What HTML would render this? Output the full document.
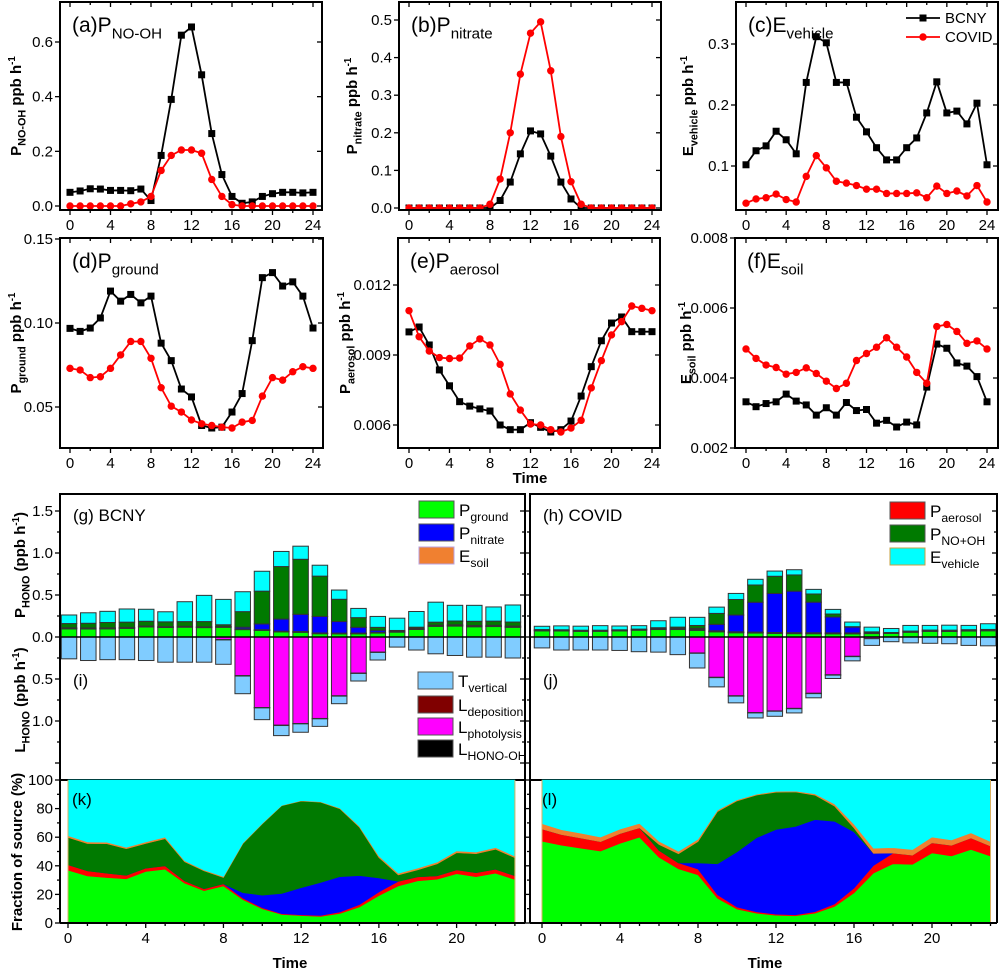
<!DOCTYPE html>
<html><head><meta charset="utf-8">
<style>
html,body{margin:0;padding:0;background:#fff;}
svg{display:block;font-family:"Liberation Sans",Arial,sans-serif;}
</style></head>
<body>
<svg id="fig" width="1001" height="971" viewBox="0 0 1001 971" xmlns="http://www.w3.org/2000/svg"></svg>
<script>
// ---------- data ----------
const hours = [0,1,2,3,4,5,6,7,8,9,10,11,12,13,14,15,16,17,18,19,20,21,22,23,24];
const barHours = [0,1,2,3,4,5,6,7,8,9,10,11,12,13,14,15,16,17,18,19,20,21,22,23];
const noohB = [0.05,0.055,0.063,0.062,0.057,0.057,0.056,0.062,0.02,0.185,0.39,0.625,0.655,0.48,0.265,0.115,0.035,0.01,0.015,0.035,0.045,0.05,0.05,0.048,0.05];
const noohC = [0,0,0,0,0,0,0.008,0.015,0.035,0.13,0.185,0.205,0.205,0.193,0.097,0.035,0.005,0,0,0,0,0,0,0,0];
const nitB = [0,0,0,0,0,0,0,0,0,0.02,0.069,0.144,0.205,0.197,0.138,0.069,0.024,0,0,0,0,0,0,0,0];
const nitC = [0,0,0,0,0,0,0,0,0.01,0.077,0.2,0.356,0.465,0.495,0.365,0.19,0.07,0.01,0,0,0,0,0,0,0];
const vehB = [0.102,0.125,0.133,0.157,0.143,0.12,0.237,0.312,0.302,0.237,0.237,0.18,0.156,0.13,0.11,0.11,0.13,0.146,0.187,0.238,0.187,0.19,0.169,0.203,0.102];
const vehC = [0.039,0.046,0.048,0.054,0.045,0.041,0.083,0.117,0.097,0.075,0.072,0.068,0.062,0.062,0.055,0.055,0.055,0.056,0.048,0.067,0.055,0.059,0.051,0.068,0.041];
const grdB = [0.0968,0.095,0.097,0.103,0.119,0.113,0.117,0.112,0.116,0.088,0.0776,0.0607,0.056,0.039,0.0375,0.038,0.047,0.058,0.0895,0.127,0.130,0.122,0.1245,0.116,0.097];
const grdC = [0.073,0.072,0.0675,0.068,0.073,0.081,0.089,0.089,0.079,0.0615,0.0505,0.047,0.0423,0.040,0.039,0.038,0.0375,0.041,0.042,0.0565,0.0675,0.066,0.071,0.074,0.073];
const aerB = [0.00999,0.0102,0.00943,0.00836,0.00768,0.0070,0.00681,0.00669,0.0066,0.006,0.0058,0.0058,0.0061,0.0059,0.0057,0.0058,0.00617,0.00724,0.0085,0.00961,0.01037,0.01063,0.0100,0.0100,0.0100];
const aerC = [0.0109,0.00978,0.00917,0.00889,0.00885,0.00887,0.00939,0.00969,0.00943,0.0086,0.00733,0.00664,0.00604,0.006,0.0058,0.0057,0.00587,0.0062,0.00759,0.00876,0.00986,0.01043,0.0111,0.0110,0.0109];
const soilB = [0.00332,0.00318,0.00327,0.00332,0.00354,0.00334,0.00323,0.00294,0.00315,0.00294,0.0033,0.00307,0.0031,0.00271,0.00279,0.0026,0.00274,0.00266,0.00374,0.00497,0.00485,0.00443,0.00434,0.00404,0.00332];
const soilC = [0.00483,0.00456,0.00437,0.0043,0.00411,0.00416,0.00429,0.00413,0.00391,0.0037,0.00385,0.0045,0.0047,0.00488,0.00515,0.00488,0.0046,0.00416,0.00385,0.00547,0.00553,0.00533,0.00499,0.00506,0.00483];
const photB = [0,0,0,0,0,0,0,0,0.03,0.46,0.84,1.05,1.03,0.97,0.70,0.43,0.18,0,0,0,0,0,0,0];
const vertB = [0.26,0.28,0.27,0.27,0.28,0.30,0.30,0.30,0.29,0.21,0.14,0.12,0.10,0.09,0.09,0.09,0.09,0.12,0.155,0.2,0.22,0.24,0.24,0.25];
const depB = [0,0,0,0,0,0,0,0,0.005,0.005,0.004,0.004,0.004,0.004,0.004,0.004,0.004,0,0,0,0,0,0,0];
const photC = [0,0,0,0,0,0,0,0,0.19,0.48,0.70,0.90,0.88,0.85,0.67,0.45,0.23,0.02,0,0,0,0,0,0];
const vertC = [0.13,0.155,0.155,0.155,0.16,0.175,0.18,0.21,0.175,0.11,0.08,0.06,0.06,0.05,0.05,0.04,0.05,0.08,0.056,0.07,0.075,0.08,0.1,0.105];
const depC = [0,0,0,0,0,0,0,0,0.004,0.004,0.004,0.004,0.004,0.004,0.004,0.004,0.004,0,0,0,0,0,0,0];
const xTickLabels = ["0","4","8","12","16","20","24"];
const areaTickLabels = ["0","4","8","12","16","20"];
const ticksA = ["0.0","0.2","0.4","0.6"];
const ticksB = ["0.0","0.1","0.2","0.3","0.4","0.5"];
const ticksC = ["0.1","0.2","0.3"];
const ticksD = ["0.05","0.10","0.15"];
const ticksE = ["0.006","0.009","0.012"];
const ticksF = ["0.002","0.004","0.006","0.008"];
const ticksP = ["0.0","0.5","1.0","1.5"];
const ticksL = ["0.5","1.0"];
const ticksFrac = ["0","20","40","60","80","100"];

// ---------- helpers ----------
const NS="http://www.w3.org/2000/svg";
const svg=document.getElementById('fig');
function el(tag,attrs,parent){const e=document.createElementNS(NS,tag);for(const k in attrs)e.setAttribute(k,attrs[k]);(parent||svg).appendChild(e);return e;}
function rich(parent,x,y,parts,size,opts){
  opts=opts||{};
  const t=el('text',{x:x,y:y,'font-size':size,fill:'#000'},parent);
  if(opts.anchor)t.setAttribute('text-anchor',opts.anchor);
  if(opts.bold)t.setAttribute('font-weight','bold');
  if(opts.rot)t.setAttribute('transform','rotate(-90 '+x+' '+y+')');
  let cur=0;
  parts.forEach(p=>{
    const s=el('tspan',{},t);
    let target=0,fs=size;
    if(p[1]==='sub'){target=size*0.3;fs=size*0.72;}
    if(p[1]==='sup'){target=-size*0.4;fs=size*0.65;}
    s.setAttribute('dy',target-cur);cur=target;
    s.setAttribute('font-size',fs);
    s.textContent=p[0];
  });
  return t;
}
function lin(v1,p1,v2,p2){return v=>p1+(v-v1)*(p2-p1)/(v2-v1);}

// ---------- line panels ----------
function linePanel(cfg){
  const g=el('g',{});
  
  
  const X=lin(0,cfg.x0,24,cfg.x24), Y=cfg.y;
  // ticks
  for(let h=0;h<=24;h+=2){
    const big=h%4===0;
    el('line',{x1:X(h),x2:X(h),y1:cfg.b,y2:cfg.b+(big?5:3),stroke:'#000','stroke-width':1.3},g);
    el('line',{x1:X(h),x2:X(h),y1:cfg.t,y2:cfg.t+(big?5:3),stroke:'#000','stroke-width':1.3},g);
  }
  xTickLabels.forEach((s,i)=>{
    const t=el('text',{x:X(i*4),y:cfg.b+20,'font-size':15,'text-anchor':'middle'},g);
    
    t.textContent=s;
  });
  cfg.ticks.forEach(s=>{
    const v=parseFloat(s),py=Y(v);
    el('line',{x1:cfg.l-5,x2:cfg.l,y1:py,y2:py,stroke:'#000','stroke-width':1.3},g);
    el('line',{x1:cfg.r-5,x2:cfg.r,y1:py,y2:py,stroke:'#000','stroke-width':1.3},g);
    const t=el('text',{x:cfg.l-7,y:py+5,'font-size':15,'text-anchor':'end'},g);
    
    t.textContent=s;
  });
  // clip
  const cid='c'+cfg.name;
  const cp=el('clipPath',{id:cid},g);el('rect',{x:cfg.l,y:cfg.t,width:cfg.r-cfg.l,height:cfg.b-cfg.t},cp);
  const pg=el('g',{'clip-path':'url(#'+cid+')'},g);
  // series
  [[cfg.sB,'#000','sq','bcny-line'],[cfg.sC,'#f00','ci','covid-line']].forEach(s=>{
    const pts=hours.map((h,i)=>X(h)+','+Y(s[0][i])).join(' ');
    const pl=el('polyline',{points:pts,fill:'none',stroke:s[1],'stroke-width':1.8},pg);
    
    hours.forEach((h,i)=>{
      if(s[2]==='sq') el('rect',{x:X(h)-3.5,y:Y(s[0][i])-3.5,width:7,height:7,fill:'#000'},pg);
      else el('circle',{cx:X(h),cy:Y(s[0][i]),r:3.7,fill:'#f00'},pg);
    });
  });
  el('rect',{x:cfg.l,y:cfg.t,width:cfg.r-cfg.l,height:cfg.b-cfg.t,fill:'none',stroke:'#000','stroke-width':2},g);
  const tt=rich(g,cfg.l+12,cfg.t+30,[['('+cfg.letter+')','n'],[cfg.tm,'n'],[cfg.ts,'sub']],21);
  
  const yl=rich(g,cfg.ylx,cfg.ylc,[[cfg.tm,'n'],[cfg.ts,'sub'],[' ppb h','n'],['-1','sup']],15,{bold:true,anchor:'middle',rot:true});
  
}
linePanel({name:'panel-a-pno-oh',letter:'a',tm:'P',ts:'NO-OH',l:60,r:322,t:2,b:210,x0:70,x24:313,y:lin(0,206,0.6,42),ticks:ticksA,sB:noohB,sC:noohC,ylx:21,ylc:106});
linePanel({name:'panel-b-pnitrate',letter:'b',tm:'P',ts:'nitrate',l:399,r:661,t:2,b:210,x0:409,x24:652,y:lin(0,208,0.5,20),ticks:ticksB,sB:nitB,sC:nitC,ylx:357,ylc:106});
linePanel({name:'panel-c-evehicle',letter:'c',tm:'E',ts:'vehicle',l:736,r:998,t:2,b:210,x0:746,x24:987,y:lin(0.1,166,0.3,44),ticks:ticksC,sB:vehB,sC:vehC,ylx:693,ylc:106});
linePanel({name:'panel-d-pground',letter:'d',tm:'P',ts:'ground',l:60,r:323,t:238,b:448,x0:70,x24:313,y:lin(0.10,323,0.05,407),ticks:ticksD,sB:grdB,sC:grdC,ylx:21,ylc:343});
linePanel({name:'panel-e-paerosol',letter:'e',tm:'P',ts:'aerosol',l:398,r:660,t:238,b:448,x0:409,x24:652,y:lin(0.009,355,0.006,425),ticks:ticksE,sB:aerB,sC:aerC,ylx:350,ylc:343});
linePanel({name:'panel-f-esoil',letter:'f',tm:'E',ts:'soil',l:735,r:998,t:238,b:448,x0:746,x24:987,y:lin(0.006,308,0.004,378),ticks:ticksF,sB:soilB,sC:soilC,ylx:691,ylc:343});

// legend (c)
const lg=el('g',{});
el('line',{x1:906,x2:940,y1:18,y2:18,stroke:'#000','stroke-width':1.8},lg);el('rect',{x:919.5,y:14.5,width:7,height:7},lg);
el('text',{x:945,y:23,'font-size':15},lg).textContent='BCNY';
el('line',{x1:906,x2:940,y1:37,y2:37,stroke:'#f00','stroke-width':1.8},lg);el('circle',{cx:923,cy:37,r:3.7,fill:'#f00'},lg);
el('text',{x:945,y:42,'font-size':15},lg).textContent='COVID';
const tm1=el('text',{x:530,y:483,'font-size':15,'font-weight':'bold','text-anchor':'middle'});
tm1.textContent='Time';

// ---------- bar panels ----------
const COL={grd:'#00ff00',soil:'#f08030',aer:'#ff0000',nit:'#0000ff',nooh:'#007a00',veh:'#00ffff',vert:'#80ccff',dep:'#800000',phot:'#ff00ff'};
const BY=v=>637-v*84;
function barPanel(cfg){
  const g=el('g',{});
  
  const X=h=>cfg.x0+h*cfg.step;
  const w=15.5;
  barHours.forEach((h,i)=>{
    let acc=0;
    cfg.pos.forEach(p=>{
      const v=p[0][i];if(v<=0)return;
      const r=el('rect',{x:X(h)-w/2,y:BY(acc+v),width:w,height:v*84,fill:p[1],stroke:'#333','stroke-width':1},g);
      
      acc+=v;
    });
    acc=0;
    cfg.neg.forEach(p=>{
      const v=p[0][i];if(v<=0)return;
      const r=el('rect',{x:X(h)-w/2,y:BY(-acc),width:w,height:v*84,fill:p[1],stroke:'#333','stroke-width':1},g);
      
      acc+=v;
    });
  });
  el('line',{x1:cfg.l,x2:cfg.r,y1:637,y2:637,stroke:'#000','stroke-width':1.5},g);
  el('rect',{x:cfg.l,y:494,width:cfg.r-cfg.l,height:286,fill:'none',stroke:'#000','stroke-width':2},g);
  // y ticks
  for(let v=-1.5;v<=1.5;v+=0.25){
    const big=Math.abs(v*2-Math.round(v*2))<1e-6;
    el('line',{x1:cfg.l-(big?5:3),x2:cfg.l,y1:BY(v),y2:BY(v),stroke:'#000','stroke-width':1.3},g);
    el('line',{x1:cfg.r-(big?5:3),x2:cfg.r,y1:BY(v),y2:BY(v),stroke:'#000','stroke-width':1.3},g);
  }
  if(cfg.labels){
    ticksP.forEach(s=>{const t=el('text',{x:cfg.l-7,y:BY(parseFloat(s))+5,'font-size':15,'text-anchor':'end'},g);t.textContent=s;});
    ticksL.forEach(s=>{const t=el('text',{x:cfg.l-7,y:BY(-parseFloat(s))+5,'font-size':15,'text-anchor':'end'},g);t.textContent=s;});
  }
  el('text',{x:cfg.l+13,y:521,'font-size':17},g).textContent=cfg.title;
  el('text',{x:cfg.l+13,y:686,'font-size':17},g).textContent=cfg.sub;
}
barPanel({name:'panel-g-bcny-bars',l:60,r:525,x0:69,step:19.3,labels:true,title:'(g) BCNY',sub:'(i)',
  pos:[[grdB,COL.grd,'ground'],[soilB,COL.soil,'soil'],[aerB,COL.aer,'aerosol'],[nitB,COL.nit,'nitrate'],[noohB,COL.nooh,'no-oh'],[vehB,COL.veh,'vehicle']],
  neg:[[photB,COL.phot,'photolysis'],[depB,COL.dep,'deposition'],[vertB,COL.vert,'vertical']]});
barPanel({name:'panel-h-covid-bars',l:530,r:997,x0:542,step:19.4,labels:false,title:'(h) COVID',sub:'(j)',
  pos:[[grdC,COL.grd,'ground'],[soilC,COL.soil,'soil'],[aerC,COL.aer,'aerosol'],[nitC,COL.nit,'nitrate'],[noohC,COL.nooh,'no-oh'],[vehC,COL.veh,'vehicle']],
  neg:[[photC,COL.phot,'photolysis'],[depC,COL.dep,'deposition'],[vertC,COL.vert,'vertical']]});

function legendBox(x,y,fill,stroke,main,sub){
  const g=el('g',{});
  el('rect',{x:x,y:y,width:35,height:17,fill:fill,stroke:stroke,'stroke-width':1},g);
  rich(g,x+40,y+15,[[main,'n'],[sub,'sub']],17);
}
legendBox(419,501,COL.grd,'#555','P','ground');
legendBox(419,524,COL.nit,'#555','P','nitrate');
legendBox(419,547,COL.soil,'#b8a0e0','E','soil');
legendBox(890,502,COL.aer,'#555','P','aerosol');
legendBox(890,525,COL.nooh,'#555','P','NO+OH');
legendBox(890,548,COL.veh,'#c8a040','E','vehicle');
legendBox(418,672,COL.vert,'#555','T','vertical');
legendBox(418,696,COL.dep,'#555','L','deposition');
legendBox(418,718,COL.phot,'#555','L','photolysis');
legendBox(418,740,'#000','#555','L','HONO-OH');
const pl1=rich(svg,25,565,[['P','n'],['HONO','sub'],[' (ppb h','n'],['-1','sup'],[')','n']],15,{bold:true,anchor:'middle',rot:true});

const pl2=rich(svg,25,700,[['L','n'],['HONO','sub'],[' (ppb h','n'],['-1','sup'],[')','n']],15,{bold:true,anchor:'middle',rot:true});


// ---------- area panels ----------
const AY=v=>923-v*1.43;
function areaPanel(cfg){
  const g=el('g',{});
  
  const X=h=>cfg.x0+h*cfg.step;
  const layers=cfg.layers;
  const tot=barHours.map((h,i)=>layers.reduce((s,L)=>s+L[0][i],0));
  let lower=barHours.map(()=>0);
  layers.forEach(L=>{
    const upper=barHours.map((h,i)=>lower[i]+L[0][i]/tot[i]*100);
    const pts=barHours.map((h,i)=>X(h)+','+AY(upper[i])).concat(barHours.slice().reverse().map(h=>X(h)+','+AY(lower[h]))).join(' ');
    const p=el('polygon',{points:pts,fill:L[1],stroke:L[1],'stroke-width':0.6},g);
    
    lower=upper;
  });
  el('line',{x1:X(0),x2:X(0),y1:780,y2:923,stroke:'#d8b060','stroke-width':1},g);
  el('line',{x1:X(23),x2:X(23),y1:780,y2:923,stroke:'#d8b060','stroke-width':1},g);
  el('line',{x1:cfg.l,x2:cfg.r,y1:923,y2:923,stroke:'#000','stroke-width':2},g);
  el('line',{x1:cfg.l,x2:cfg.l,y1:780,y2:923,stroke:'#000','stroke-width':2},g);
  el('line',{x1:cfg.r,x2:cfg.r,y1:780,y2:923,stroke:'#000','stroke-width':2},g);
  for(let v=0;v<=100;v+=10){
    el('line',{x1:cfg.l-(v%20===0?5:3),x2:cfg.l,y1:AY(v),y2:AY(v),stroke:'#000','stroke-width':1.3},g);
  }
  for(let h=0;h<=23;h++){
    el('line',{x1:X(h),x2:X(h),y1:923,y2:923+(h%4===0?5:3),stroke:'#000','stroke-width':1.3},g);
  }
  areaTickLabels.forEach((s,i)=>{const t=el('text',{x:X(i*4),y:943,'font-size':15,'text-anchor':'middle'},g);t.textContent=s;});
  if(cfg.labels) ticksFrac.forEach(s=>{const t=el('text',{x:cfg.l-7,y:AY(parseFloat(s))+5,'font-size':15,'text-anchor':'end'},g);t.textContent=s;});
  el('text',{x:cfg.l+12,y:805,'font-size':17},g).textContent=cfg.title;
  const tt=el('text',{x:cfg.tx,y:968,'font-size':15,'font-weight':'bold','text-anchor':'middle'},g);
  tt.textContent='Time';
}
areaPanel({name:'panel-k-bcny-fraction',l:60,r:525,x0:68,step:19.43,labels:true,title:'(k)',tx:290,
  layers:[[grdB,COL.grd,'ground'],[aerB,COL.aer,'aerosol'],[nitB,COL.nit,'nitrate'],[noohB,COL.nooh,'no-oh'],[soilB,COL.soil,'soil'],[vehB,COL.veh,'vehicle']]});
areaPanel({name:'panel-l-covid-fraction',l:530,r:997,x0:542,step:19.5,labels:false,title:'(l)',tx:765,
  layers:[[grdC,COL.grd,'ground'],[aerC,COL.aer,'aerosol'],[nitC,COL.nit,'nitrate'],[noohC,COL.nooh,'no-oh'],[soilC,COL.soil,'soil'],[vehC,COL.veh,'vehicle']]});
const fl=el('text',{x:22,y:852,'font-size':15,'font-weight':'bold','text-anchor':'middle',transform:'rotate(-90 22 852)'});
fl.textContent='Fraction of source (%)';
</script>
</body></html>
